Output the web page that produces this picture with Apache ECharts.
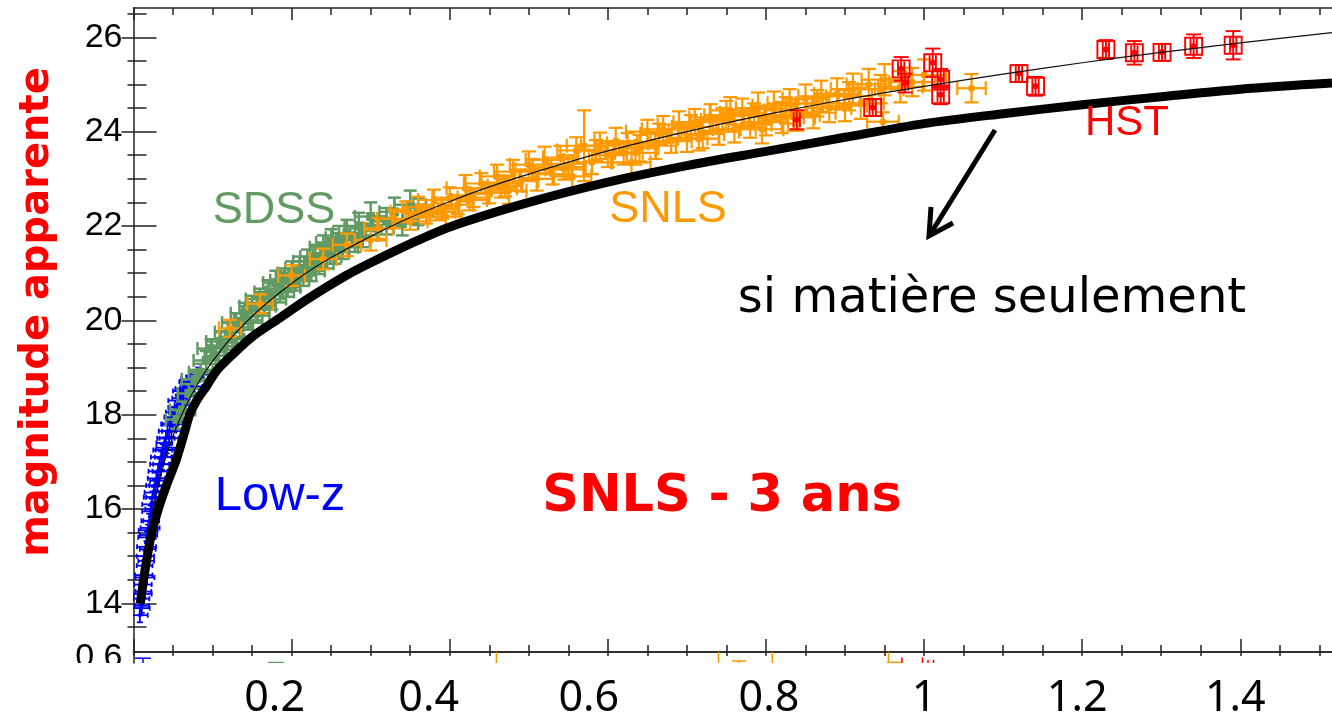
<!DOCTYPE html>
<html><head><meta charset="utf-8">
<script src="https://cdn.jsdelivr.net/npm/echarts@6/dist/echarts.min.js"></script>
<style>html,body{margin:0;padding:0;background:#fff}#c{width:1332px;height:720px}</style>
</head><body><div id="c"></div><script>
// ---- axes / ticks ----
var X_MIN = 0, X_MAX = 1.516;
var Y_MIN = 12.97, Y_MAX = 26.62;
var X_MAJOR = [0, 0.2, 0.4, 0.6, 0.8, 1.0, 1.2, 1.4];
var X_LABELS = [0.2, 0.4, 0.6, 0.8, 1, 1.2, 1.4];
var X_MINOR = [0.05,0.1,0.15,0.25,0.3,0.35,0.45,0.5,0.55,0.65,0.7,0.75,0.85,0.9,0.95,1.05,1.1,1.15,1.25,1.3,1.35,1.45,1.5];
var Y_MAJOR = [14, 16, 18, 20, 22, 24, 26];
var Y_MINOR = [13.5,14.5,15,15.5,16.5,17,17.5,18.5,19,19.5,20.5,21,21.5,22.5,23,23.5,24.5,25,25.5,26.5];
var LOW_Y_LABELS = [0.6];

// ---- model curves ----
var THIN_Z = [0.01,0.015,0.02,0.025,0.03,0.04,0.05,0.06,0.07,0.08,0.09,0.1,0.12,0.14,0.16,0.18,0.2,0.22,0.25,0.3,0.35,0.4,0.45,0.5,0.6,0.7,0.8,0.9,1.0,1.1,1.2,1.3,1.4,1.516];
var THIN_M = [13.97,14.88,15.51,16.00,16.41,17.05,17.55,17.96,18.31,18.62,18.89,19.13,19.56,19.92,20.24,20.52,20.78,21.02,21.33,21.78,22.18,22.52,22.83,23.10,23.59,24.00,24.36,24.68,24.96,25.22,25.46,25.68,25.88,26.10];
var THICK_Z = [0.0086,0.014,0.022,0.031,0.041,0.054,0.064,0.071,0.08,0.093,0.105,0.125,0.15,0.185,0.22,0.269,0.3,0.35,0.4,0.5,0.6,0.7,0.8,0.9,1.0,1.1,1.2,1.3,1.4,1.516];
var THICK_M = [14.0,14.64,15.41,15.98,16.47,17.04,17.59,18.0,18.3,18.62,18.93,19.27,19.65,20.05,20.45,20.95,21.22,21.62,21.98,22.5,22.93,23.28,23.58,23.88,24.17,24.38,24.57,24.74,24.9,25.03];

// ---- supernovae: [z, mag, z error, mag error] ----
var LOWZ = [[0.008,13.75,0.01,0.15],[0.0095,13.9,0.011,0.15],[0.010,14.1,0.01,0.12],[0.0105,13.95,0.009,0.15],[0.011,14.2,0.012,0.12],[0.012,14.4,0.011,0.12],[0.0125,14.25,0.01,0.12],[0.013,14.6,0.011,0.12],[0.014,14.8,0.01,0.12],[0.0145,14.55,0.012,0.12],[0.015,15.0,0.011,0.12],[0.016,14.9,0.01,0.12],[0.0165,15.2,0.012,0.12],[0.017,15.4,0.011,0.12],[0.018,15.15,0.01,0.15],[0.0185,15.55,0.012,0.12],[0.019,15.45,0.011,0.12],[0.02,15.75,0.01,0.15],[0.021,15.6,0.012,0.12],[0.022,15.95,0.011,0.12],[0.0225,15.75,0.01,0.15],[0.023,16.1,0.012,0.12],[0.024,16.25,0.011,0.12],[0.025,16.0,0.01,0.15],[0.026,16.35,0.012,0.12],[0.027,16.5,0.011,0.12],[0.028,16.25,0.012,0.15],[0.029,16.65,0.011,0.12],[0.03,16.5,0.01,0.12],[0.031,16.8,0.012,0.15],[0.032,16.6,0.011,0.12],[0.033,16.95,0.012,0.12],[0.034,16.8,0.01,0.15],[0.035,17.1,0.013,0.12],[0.036,16.95,0.011,0.12],[0.037,17.25,0.012,0.12],[0.038,17.1,0.011,0.15],[0.039,17.4,0.01,0.12],[0.04,17.25,0.012,0.12],[0.041,17.5,0.011,0.15],[0.042,17.3,0.013,0.12],[0.043,17.65,0.011,0.12],[0.045,17.5,0.012,0.15],[0.046,17.8,0.011,0.12],[0.048,17.65,0.012,0.12],[0.049,17.95,0.01,0.15],[0.05,17.8,0.013,0.12],[0.052,18.05,0.011,0.12],[0.053,17.85,0.012,0.15],[0.055,18.15,0.011,0.12],[0.056,18.3,0.012,0.12],[0.058,18.05,0.013,0.15],[0.06,18.35,0.011,0.12],[0.062,18.5,0.012,0.12],[0.063,18.2,0.011,0.15],[0.065,18.55,0.012,0.12],[0.067,18.4,0.013,0.15],[0.069,18.7,0.011,0.12],[0.071,18.55,0.012,0.12],[0.073,18.75,0.013,0.15],[0.075,18.6,0.012,0.12],[0.078,18.8,0.011,0.12],[0.082,18.85,0.012,0.15]];
var SDSS = [[0.055,17.9,0.014,0.2],[0.062,18.1,0.016,0.18],[0.07,18.45,0.014,0.2],[0.078,18.75,0.017,0.2],[0.085,18.9,0.015,0.18],[0.092,19.15,0.016,0.2],[0.098,19.4,0.017,0.2],[0.104,19.25,0.014,0.18],[0.11,19.55,0.018,0.22],[0.115,19.45,0.016,0.2],[0.12,19.75,0.017,0.2],[0.125,19.6,0.015,0.22],[0.13,19.95,0.018,0.2],[0.135,19.85,0.016,0.2],[0.14,20.15,0.017,0.22],[0.145,20.0,0.018,0.2],[0.15,20.3,0.016,0.22],[0.155,20.15,0.017,0.2],[0.16,20.45,0.018,0.22],[0.165,20.3,0.015,0.2],[0.17,20.6,0.017,0.25],[0.175,20.45,0.018,0.22],[0.18,20.8,0.016,0.25],[0.185,20.6,0.018,0.22],[0.19,20.85,0.017,0.25],[0.195,20.7,0.016,0.2],[0.2,21.0,0.018,0.25],[0.205,20.85,0.017,0.22],[0.21,21.1,0.018,0.25],[0.215,20.95,0.016,0.22],[0.22,21.25,0.018,0.25],[0.225,21.05,0.017,0.22],[0.23,21.35,0.019,0.25],[0.235,21.2,0.018,0.22],[0.24,21.55,0.017,0.25],[0.245,21.35,0.018,0.25],[0.25,21.65,0.019,0.28],[0.255,21.45,0.018,0.25],[0.26,21.75,0.017,0.25],[0.265,21.55,0.019,0.25],[0.27,21.85,0.018,0.28],[0.28,21.7,0.019,0.25],[0.285,22.0,0.018,0.28],[0.29,21.8,0.019,0.25],[0.3,22.2,0.02,0.3],[0.31,21.95,0.019,0.25],[0.32,22.1,0.02,0.28],[0.33,22.3,0.019,0.3],[0.34,22.05,0.02,0.25],[0.35,22.45,0.02,0.3],[0.36,22.3,0.019,0.28]];
var SNLS = [[0.122,19.83,0.014,0.18],[0.16,20.35,0.016,0.2],[0.2,20.95,0.017,0.22],[0.24,21.3,0.017,0.22],[0.27,21.6,0.018,0.24],[0.30,21.7,0.02,0.22],[0.31,21.95,0.018,0.22],[0.33,22.15,0.022,0.2],[0.345,22.3,0.02,0.22],[0.35,22.1,0.022,0.18],[0.36,22.4,0.02,0.22],[0.37,22.25,0.022,0.2],[0.38,22.55,0.02,0.22],[0.385,22.3,0.022,0.18],[0.39,22.35,0.022,0.2],[0.395,22.2,0.02,0.22],[0.40,22.6,0.022,0.22],[0.41,22.45,0.02,0.2],[0.42,22.8,0.024,0.28],[0.425,22.55,0.022,0.22],[0.43,22.6,0.02,0.2],[0.44,22.9,0.022,0.22],[0.45,22.7,0.024,0.22],[0.46,23.05,0.022,0.25],[0.465,22.8,0.02,0.2],[0.47,22.85,0.022,0.22],[0.475,22.75,0.022,0.28],[0.48,23.15,0.024,0.25],[0.49,22.95,0.022,0.22],[0.50,23.3,0.024,0.28],[0.505,23.2,0.022,0.22],[0.51,23.0,0.022,0.25],[0.52,23.4,0.024,0.28],[0.53,23.1,0.024,0.22],[0.54,23.45,0.022,0.25],[0.545,23.2,0.024,0.22],[0.55,23.25,0.022,0.25],[0.555,23.05,0.024,0.28],[0.56,23.6,0.024,0.28],[0.57,23.7,0.022,0.75],[0.58,23.35,0.024,0.25],[0.585,23.6,0.022,0.22],[0.59,23.7,0.024,0.28],[0.60,23.5,0.024,0.25],[0.61,23.8,0.027,0.28],[0.62,23.55,0.024,0.25],[0.625,23.75,0.026,0.22],[0.63,23.35,0.024,0.33],[0.635,23.55,0.026,0.25],[0.64,23.65,0.024,0.28],[0.65,24.0,0.027,0.25],[0.66,23.7,0.026,0.28],[0.665,23.95,0.024,0.22],[0.67,24.05,0.027,0.28],[0.68,23.8,0.026,0.25],[0.69,24.15,0.027,0.28],[0.70,23.85,0.026,0.28],[0.705,24.1,0.024,0.25],[0.71,24.2,0.027,0.28],[0.715,23.85,0.026,0.25],[0.72,23.95,0.027,0.3],[0.73,24.3,0.027,0.28],[0.74,24.0,0.026,0.28],[0.745,24.25,0.027,0.25],[0.75,24.35,0.028,0.3],[0.755,24.45,0.026,0.28],[0.76,24.05,0.027,0.28],[0.77,24.4,0.028,0.3],[0.78,24.15,0.027,0.28],[0.785,24.35,0.026,0.25],[0.79,24.5,0.028,0.33],[0.795,24.05,0.027,0.3],[0.80,24.2,0.028,0.28],[0.81,24.55,0.027,0.3],[0.82,24.3,0.028,0.33],[0.825,24.45,0.027,0.28],[0.83,24.6,0.028,0.3],[0.835,24.3,0.027,0.28],[0.84,24.35,0.028,0.33],[0.85,24.7,0.029,0.3],[0.86,24.4,0.028,0.33],[0.865,24.6,0.027,0.28],[0.87,24.75,0.029,0.33],[0.88,24.5,0.028,0.3],[0.89,24.8,0.029,0.33],[0.90,24.55,0.028,0.33],[0.905,24.75,0.029,0.3],[0.91,24.9,0.028,0.33],[0.92,24.6,0.029,0.33],[0.93,25.0,0.028,0.33],[0.945,24.9,0.029,0.3],[0.948,24.21,0.02,0.2],[0.95,25.1,0.029,0.33],[0.97,24.95,0.028,0.33],[0.985,25.05,0.029,0.3],[1.0,25.2,0.028,0.33],[1.06,24.92,0.018,0.3]];
// HST: [z, mag, z error, mag error, boxed]
var HST = [[0.839,24.25,0.004,0.2,0],[0.935,24.51,0.004,0.18,1],[0.971,25.33,0.004,0.25,1],[0.976,25.03,0.004,0.2,0],[1.011,25.46,0.004,0.3,1],[1.021,25.11,0.004,0.22,1],[1.021,24.78,0.004,0.2,1],[1.12,25.23,0.004,0.18,1],[1.141,24.96,0.004,0.2,1],[1.23,25.74,0.004,0.2,1],[1.266,25.67,0.004,0.25,1],[1.301,25.68,0.004,0.18,1],[1.341,25.81,0.004,0.25,1],[1.391,25.83,0.004,0.3,1]];
// lower (residual) panel, only its top edge is visible: [z, top of bar, has cap]
var LOW_BLUE = [[0.012,0.597,1]];
var LOW_GREEN = [[0.18,0.577,1]];
var LOW_ORANGE = [[0.459,0.63,0],[0.74,0.63,0],[0.766,0.584,1],[0.808,0.63,0],[0.955,0.63,0],[0.962,0.578,1]];
var LOW_RED = [[0.972,0.6,0],[0.998,0.6,0],[1.005,0.59,0],[1.012,0.59,0]];

// ---- styles ----
var C_BLUE = '#0000ff', C_GREEN = '#619a63', C_ORANGE = '#ff9900', C_RED = '#ff0000';
var X_LABEL_NUDGE = {'0.2': -17, '0.4': -21, '0.6': -19, '0.8': 3, '1': 0, '1.2': -5, '1.4': -5};

function errRender(o) {
  return function (params, api) {
    var z = api.value(0), m = api.value(1), ez = api.value(2), em = api.value(3);
    var c = api.coord([z, m]);
    var xl = api.coord([z - ez, m])[0], xr = api.coord([z + ez, m])[0];
    var yt = api.coord([z, m + em])[1], yb = api.coord([z, m - em])[1];
    var st = {stroke: o.color, lineWidth: o.lw, fill: null};
    var h = o.cap / 2, hv = (o.capV || o.cap) / 2;
    var ch = [
      {type: 'line', shape: {x1: xl, y1: c[1], x2: xr, y2: c[1]}, style: st},
      {type: 'line', shape: {x1: c[0], y1: yt, x2: c[0], y2: yb}, style: st},
      {type: 'line', shape: {x1: xl, y1: c[1] - hv, x2: xl, y2: c[1] + hv}, style: st},
      {type: 'line', shape: {x1: xr, y1: c[1] - hv, x2: xr, y2: c[1] + hv}, style: st},
      {type: 'line', shape: {x1: c[0] - h, y1: yt, x2: c[0] + h, y2: yt}, style: st},
      {type: 'line', shape: {x1: c[0] - h, y1: yb, x2: c[0] + h, y2: yb}, style: st}
    ];
    if (o.square) ch.push({type: 'rect', shape: {x: c[0] - o.square / 2, y: c[1] - o.square / 2, width: o.square, height: o.square}, style: {fill: o.color}});
    if (o.box && api.value(4)) ch.push({type: 'rect', shape: {x: c[0] - o.box / 2, y: c[1] - o.box / 2, width: o.box, height: o.box}, style: {stroke: o.color, fill: null, lineWidth: o.lw}});
    if (o.dot) ch.push({type: 'circle', shape: {cx: c[0], cy: c[1], r: o.dot}, style: {fill: o.color}});
    return {type: 'group', children: ch};
  };
}
function lowRender(color, cap) {
  return function (params, api) {
    var z = api.value(0), top = api.value(1), hasCap = api.value(2);
    var t = api.coord([z, top]), b = api.coord([z, 0.5]);
    var st = {stroke: color, lineWidth: 1.5};
    var ch = [{type: 'line', shape: {x1: t[0], y1: t[1], x2: t[0], y2: b[1]}, style: st}];
    if (hasCap) ch.push({type: 'line', shape: {x1: t[0] - cap / 2, y1: t[1], x2: t[0] + cap / 2, y2: t[1]}, style: st});
    return {type: 'group', children: ch};
  };
}
function pairs(zs, ms) { return zs.map(function (z, i) { return [z, ms[i]]; }); }

var XL_FONT = {fontSize: 43, fontFamily: 'Noto Sans', color: '#000'};
var rich = {};
Object.keys(X_LABEL_NUDGE).forEach(function (k, i) {
  var n = X_LABEL_NUDGE[k];
  rich['n' + i] = Object.assign({padding: [0, n < 0 ? -2 * n : 0, 0, n > 0 ? 2 * n : 0]}, XL_FONT);
});
function xLabelFmt(v) {
  var s = String(Math.round(v * 10) / 10);
  var i = Object.keys(X_LABEL_NUDGE).indexOf(s);
  return i < 0 ? s : '{n' + i + '|' + s + '}';
}

var AX = '#222';
var axLine = {show: true, onZero: false, lineStyle: {color: AX, width: 1.5}};
var noLine = {show: false};
function tick(vals, len) { return {show: true, inside: true, length: len, customValues: vals, lineStyle: {color: AX, width: 1.5}}; }
var noLabel = {show: false};

var chart = echarts.init(document.getElementById('c'), null, {renderer: 'canvas'});
chart.setOption({
  animation: false,
  backgroundColor: '#fff',
  grid: [
    {left: 133.5, top: 8, width: 1199.5, height: 644},
    {left: 133.5, top: 652, width: 1199.5, height: 11}
  ],
  xAxis: [
    {gridIndex: 0, type: 'value', min: X_MIN, max: X_MAX, position: 'bottom', axisLine: axLine, axisTick: tick(X_MAJOR, 13),
      axisLabel: Object.assign({customValues: X_LABELS, margin: 25, formatter: xLabelFmt, rich: rich}, XL_FONT), splitLine: {show: false}},
    {gridIndex: 0, type: 'value', min: X_MIN, max: X_MAX, position: 'bottom', axisLine: noLine, axisTick: tick(X_MINOR, 7), axisLabel: noLabel, splitLine: {show: false}},
    {gridIndex: 0, type: 'value', min: X_MIN, max: X_MAX, position: 'top', axisLine: axLine, axisTick: tick(X_MAJOR, 12), axisLabel: noLabel, splitLine: {show: false}},
    {gridIndex: 0, type: 'value', min: X_MIN, max: X_MAX, position: 'top', axisLine: noLine, axisTick: tick(X_MINOR, 7), axisLabel: noLabel, splitLine: {show: false}},
    {gridIndex: 1, type: 'value', min: X_MIN, max: X_MAX, position: 'top', axisLine: axLine, axisTick: tick(X_MAJOR.concat(X_MINOR), 4), axisLabel: noLabel, splitLine: {show: false}}
  ],
  yAxis: [
    {gridIndex: 0, type: 'value', min: Y_MIN, max: Y_MAX, position: 'left', axisLine: axLine, axisTick: tick(Y_MAJOR, 23),
      axisLabel: {customValues: Y_MAJOR, margin: 11, fontSize: 34, fontFamily: 'Liberation Sans', color: '#000'}, splitLine: {show: false}},
    {gridIndex: 0, type: 'value', min: Y_MIN, max: Y_MAX, position: 'left', axisLine: noLine, axisTick: tick(Y_MINOR, 13), axisLabel: noLabel, splitLine: {show: false}},
    {gridIndex: 0, type: 'value', min: Y_MIN, max: Y_MAX, position: 'right', axisLine: noLine, axisTick: tick(Y_MAJOR, 12), axisLabel: noLabel, splitLine: {show: false}},
    {gridIndex: 0, type: 'value', min: Y_MIN, max: Y_MAX, position: 'right', axisLine: noLine, axisTick: tick(Y_MINOR, 6), axisLabel: noLabel, splitLine: {show: false}},
    {gridIndex: 1, type: 'value', min: 0.575, max: 0.625, position: 'left', axisLine: axLine, axisTick: {show: false},
      axisLabel: {customValues: LOW_Y_LABELS, margin: 11, fontSize: 34, fontFamily: 'Liberation Sans', color: '#000'}, splitLine: {show: false}}
  ],
  series: [
    {type: 'custom', name: 'Low-z', xAxisIndex: 0, yAxisIndex: 0, clip: true, data: LOWZ, z: 2,
      renderItem: errRender({color: C_BLUE, lw: 1.8, cap: 6, capV: 5, square: 3})},
    {type: 'custom', name: 'SDSS', xAxisIndex: 0, yAxisIndex: 0, clip: true, data: SDSS, z: 3,
      renderItem: errRender({color: C_GREEN, lw: 2.5, cap: 13, square: 9})},
    {type: 'custom', name: 'SNLS', xAxisIndex: 0, yAxisIndex: 0, clip: true, data: SNLS, z: 4,
      renderItem: errRender({color: C_ORANGE, lw: 2.2, cap: 14, dot: 3.5})},
    {type: 'custom', name: 'HST', xAxisIndex: 0, yAxisIndex: 0, clip: true, data: HST, z: 5,
      dimensions: ['z', 'm', 'ez', 'em', 'box'],
      renderItem: errRender({color: C_RED, lw: 1.9, cap: 15, dot: 3, box: 17})},
    {type: 'line', name: 'matter only', xAxisIndex: 0, yAxisIndex: 0, data: pairs(THICK_Z, THICK_M), z: 6,
      showSymbol: false, smooth: 0.3, lineStyle: {color: '#000', width: 9, cap: 'butt'}},
    {type: 'line', name: 'fit', xAxisIndex: 0, yAxisIndex: 0, data: pairs(THIN_Z, THIN_M), z: 7,
      showSymbol: false, smooth: 0.3, lineStyle: {color: '#111', width: 1.2}},
    {type: 'custom', xAxisIndex: 4, yAxisIndex: 4, clip: true, data: LOW_BLUE, renderItem: lowRender(C_BLUE, 16)},
    {type: 'custom', xAxisIndex: 4, yAxisIndex: 4, clip: true, data: LOW_GREEN, renderItem: lowRender(C_GREEN, 16)},
    {type: 'custom', xAxisIndex: 4, yAxisIndex: 4, clip: true, data: LOW_ORANGE, renderItem: lowRender(C_ORANGE, 14)},
    {type: 'custom', xAxisIndex: 4, yAxisIndex: 4, clip: true, data: LOW_RED, renderItem: lowRender(C_RED, 8)}
  ],
  graphic: [
    {type: 'rect', z: 100, shape: {x: 0, y: 663, width: 128, height: 40}, style: {fill: '#fff'}},
    {type: 'text', z: 100, x: 38, y: 312, rotation: Math.PI / 2,
      style: {text: 'magnitude apparente', font: 'bold 40px "DejaVu Sans"', fill: '#ff0000', align: 'center', verticalAlign: 'middle', textAlign: 'center', textVerticalAlign: 'middle'}},
    {type: 'text', z: 100, x: 274, y: 211,
      style: {text: 'SDSS', font: '45px "Liberation Sans"', fill: C_GREEN, align: 'center', verticalAlign: 'middle', textAlign: 'center', textVerticalAlign: 'middle'}},
    {type: 'text', z: 100, x: 668, y: 210,
      style: {text: 'SNLS', font: '45px "Liberation Sans"', fill: C_ORANGE, align: 'center', verticalAlign: 'middle', textAlign: 'center', textVerticalAlign: 'middle'}},
    {type: 'text', z: 100, x: 1127, y: 123,
      style: {text: 'HST', font: '42px "Liberation Sans"', fill: C_RED, align: 'center', verticalAlign: 'middle', textAlign: 'center', textVerticalAlign: 'middle'}},
    {type: 'text', z: 100, x: 280, y: 496,
      style: {text: 'Low-z', font: '49px "Liberation Sans"', fill: C_BLUE, align: 'center', verticalAlign: 'middle', textAlign: 'center', textVerticalAlign: 'middle'}},
    {type: 'text', z: 100, x: 722, y: 498,
      style: {text: 'SNLS - 3 ans', font: 'bold 51px "DejaVu Sans"', fill: C_RED, align: 'center', verticalAlign: 'middle', textAlign: 'center', textVerticalAlign: 'middle'}},
    {type: 'text', z: 100, x: 992, y: 300,
      style: {text: 'si matière seulement', font: '48px "DejaVu Sans"', fill: '#000', align: 'center', verticalAlign: 'middle', textAlign: 'center', textVerticalAlign: 'middle'}},
    {type: 'line', z: 100, shape: {x1: 995, y1: 130, x2: 931, y2: 233}, style: {stroke: '#000', lineWidth: 5}},
    {type: 'polyline', z: 100, shape: {points: [[931, 207], [929, 236], [953, 223]]}, style: {stroke: '#000', lineWidth: 5, fill: null, lineJoin: 'miter'}}
  ]
});
</script></body></html>
